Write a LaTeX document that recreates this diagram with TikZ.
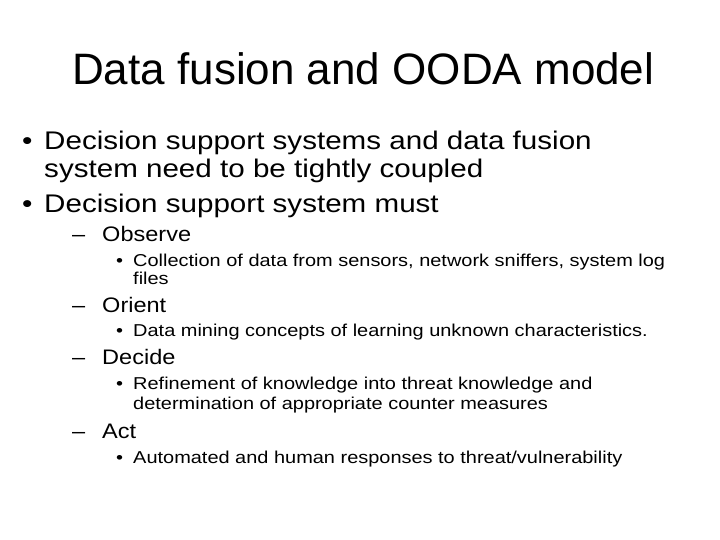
\documentclass[tikz,border=0pt]{standalone}
\usepackage{fontspec}
\setmainfont{Liberation Sans}
\begin{document}
\begin{tikzpicture}[x=1pt,y=-1pt,
  t/.style={anchor=base west,inner sep=0pt},
  ti/.style={t,font=\fontsize{44}{52}\selectfont},
  la/.style={t,font=\fontsize{25.5}{30}\selectfont,xscale=1.16},
  lb/.style={t,font=\fontsize{21}{25}\selectfont,xscale=1.12},
  lc/.style={t,font=\fontsize{17.2}{20}\selectfont,xscale=1.16}]
\useasboundingbox (0,0) rectangle (720,540);
\node[ti] (title) at (72,85) {Data fusion and OODA model};
\node[la] (b1) at (22,150) {•};
\node[la] (l1) at (44,150) {Decision support systems and data fusion};
\node[la] (l1b) at (44,178) {system need to be tightly coupled};
\node[la] (b2) at (22,212) {•};
\node[la] (l2) at (44,212) {Decision support system must};
\node[lb] (d1) at (72,241) {–};
\node[lb] (o) at (102,241) {Observe};
\node[lc] (c1) at (116,266) {•};
\node[lc] (o1) at (133,266) {Collection of data from sensors, network sniffers, system log};
\node[lc] (o2) at (133,284) {files};
\node[lb] (d2) at (72,312) {–};
\node[lb] (or) at (102,312) {Orient};
\node[lc] (c2) at (116,336) {•};
\node[lc] (or1) at (133,336) {Data mining concepts of learning unknown characteristics.};
\node[lb] (d3) at (72,364) {–};
\node[lb] (de) at (102,364) {Decide};
\node[lc] (c3) at (116,389) {•};
\node[lc] (de1) at (133,389) {Refinement of knowledge into threat knowledge and};
\node[lc] (de2) at (133,409) {determination of appropriate counter measures};
\node[lb] (d4) at (72,438) {–};
\node[lb] (ac) at (102,438) {Act};
\node[lc] (c4) at (116,463) {•};
\node[lc] (ac1) at (133,463) {Automated and human responses to threat/vulnerability};
\end{tikzpicture}
\end{document}
